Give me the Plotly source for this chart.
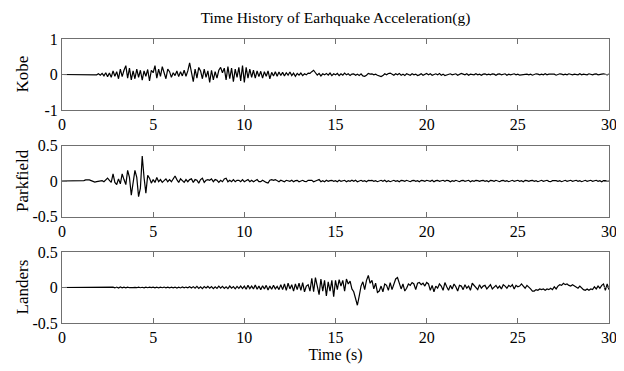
import plotly.graph_objects as go
from plotly.subplots import make_subplots

# ---- data (g), sampled every 0.1 s from 0 to 30 s ----
dt = 0.1
kobe = [
    0, 0, 0, 0, 0, .005, 0, -.005, 0, 0,
    .005, 0, -.005, .005, 0, .01, -.005, 0, .01, -.01,
    .02, -.02, .03, -.04, .05, -.06, .04, -.08, .1, -.05,
    .08, -.12, .15, -.06, .12, .25, -.1, .18, -.15, .1,
    -.12, .15, -.08, .12, -.16, .1, -.05, .14, -.18, .12,
    .05, .25, -.1, .15, -.05, .22, .05, -.12, .15, .08,
    -.08, .05, -.03, .1, -.06, .08, -.04, .12, -.05, .1,
    .33, .05, -.2, .15, -.1, .2, .1, -.12, .15, -.08,
    .1, -.22, .12, -.15, .08, -.1, .12, .2, .05, .18,
    -.15, .22, -.12, .18, -.2, .15, -.08, .2, -.18, .25,
    -.22, .2, -.1, .15, -.08, .12, -.1, .1, -.06, .09,
    -.1, .08, -.05, .1, -.12, .06, -.04, .08, -.05, .07,
    -.03, .06, -.04, .05, -.02, .07, -.03, .04, -.05, .03,
    -.02, .04, -.03, .02, -.01, .04, .03, .08, .12, .05,
    -.02, .03, -.04, .02, -.01, .03, -.02, .04, -.03, .02,
    -.01, .03, -.03, .02, -.02, .04, -.01, .02, -.03, .01,
    .02, -.02, .01, -.03, .02, -.04, -.05, -.02, .03, .01,
    .02, -.01, .01, -.02, -.04, -.06, -.03, .02, -.01, .03,
    .04, .01, -.02, .02, -.01, .03, -.02, .01, -.03, .02,
    .01, -.02, .02, -.01, .01, -.03, -.01, .02, -.02, .01,
    .03, -.01, .02, -.02, .01, .02, -.01, .03, -.02, .01,
    -.03, -.02, .01, .02, -.01, .01, .02, -.02, .01, .03,
    .01, -.01, .02, -.02, .01, .01, -.01, .02, -.01, .01,
    -.02, .01, .02, -.01, .01, -.01, .02, .01, -.02, .01,
    .02, -.01, .01, .02, -.02, .01, -.01, .01, .02, -.01,
    .01, -.02, -.01, .01, .02, .01, -.01, .01, -.02, .01,
    .02, .01, -.01, .01, -.01, .02, -.01, .01, .01, -.01,
    .01, -.02, .01, .02, .01, -.01, .01, -.01, .02, .01,
    -.01, .01, .01, -.01, .02, -.01, .01, .01, -.01, .02,
    .01, -.01, .01, .02, -.01, .01, .01, .02, .01, -.01,
    .01,
]
parkfield = [
    0, 0, 0, 0, 0, 0, 0, 0, 0, 0,
    0, 0, .005, .015, .02, .015, .005, -.01, -.015, -.01,
    -.005, .01, .005, -.01, .02, .04, .01, -.02, .1, -.02,
    -.05, .03, -.04, .1, .02, -.05, .15, .05, -.2, -.05,
    .15, .05, -.22, -.1, .35, .05, -.17, .08, .04, -.03,
    .02, -.02, .05, -.01, .02, -.02, .01, .03, -.01, .02,
    -.01, .03, .07, .02, -.02, .03, .01, -.02, .02, -.01,
    .02, .03, -.02, .02, .01, -.03, .02, .04, -.02, .01,
    .02, .01, .03, -.01, .02, .01, -.02, .01, -.01, .03,
    .04, -.01, .01, -.01, .02, -.01, .01, .01, -.01, .02,
    -.01, .01, .02, -.01, .01, -.01, .01, .02, -.01, -.01,
    .01, -.01, -.02, -.03, .01, .02, .01, .02, .01, -.01,
    .01, .005, -.01, .01, .005, -.005, .01, -.01, .005, .01,
    -.01, .005, .01, -.005, -.01, .01, .005, .01, -.01, .005,
    .01, .02, -.01, .005, -.01, .01, -.005, .005, .01, -.005,
    .005, -.01, .01, -.005, .005, .01, -.01, .005, -.005, .01,
    -.005, .01, -.01, .005, .01, -.005, .005, -.01, .01, .005,
    .01, -.005, .005, -.01, .005, .01, -.005, .01, -.01, .005,
    -.01, .005, .01, -.005, .005, -.01, .01, .005, -.005, .01,
    .005, -.01, .005, .01, -.005, .005, -.01, .01, .005, -.005,
    .01, .005, -.005, .01, -.01, .005, .01, -.005, .005, .01,
    -.005, .01, .005, -.01, .005, -.005, .01, .005, -.01, .005,
    .01, -.005, .005, .01, -.01, .005, -.005, .01, .005, -.005,
    .005, .01, -.005, .005, -.01, .01, .005, -.005, .01, .005,
    -.01, .005, .01, -.005, .005, -.01, .005, .01, -.005, .005,
    .01, -.005, .005, -.01, .01, .005, -.005, .005, .01, -.005,
    .005, -.01, .005, .01, -.005, .005, .01, -.005, -.01, .005,
    .01, .005, -.005, .005, -.01, .005, .01, -.005, .005, .01,
    -.005, .005, .01, -.005, .005, -.01, .005, .01, -.005, .005,
    .01, -.005, .005, .01, -.005, .005, -.01, .005, .005, -.005,
    0,
]
landers = [
    0, 0, 0, 0, 0, 0, 0, 0, 0, 0,
    0, 0, 0, 0, 0, 0, 0, .002, -.002, 0,
    .002, -.003, .003, -.002, .003, -.005, .005, -.005, .004, -.006,
    .006, -.008, .008, -.005, .005, -.004, .004, -.003, .003, -.002,
    .002, -.003, .004, -.003, .003, -.004, .005, -.003, .004, -.002,
    .006, -.004, .005, -.006, .004, -.003, .006, -.005, .004, -.006,
    .005, -.004, .006, -.007, .005, -.006, .008, -.005, .006, -.004,
    .01, -.008, .012, -.01, .015, -.012, .01, -.015, .012, -.008,
    .015, -.01, .012, -.015, .01, -.012, .018, -.01, .015, -.012,
    .01, -.015, .02, -.01, .012, -.018, .015, -.012, .02, -.015,
    .02, -.025, .03, -.015, .02, -.02, .035, -.025, .02, -.03,
    .025, -.02, .03, -.035, .02, -.025, .03, -.02, .015, -.03,
    .04, -.03, .05, -.04, .06, -.02, .04, -.05, .05, -.03,
    .06, -.04, .07, -.06, .02, .04, -.05, .13, -.06, .14,
    .02, -.1, .12, -.05, .1, -.12, .08, -.05, .1, -.13,
    .1, -.03, .11, .02, .1, -.05, .12, .05, .09, -.02,
    -.06, -.15, -.25, -.12, .02, .08, -.03, .1, .17, .06,
    .1, -.02, .06, -.07, -.05, .02, -.06, .05, .03, -.04,
    .07, -.03, .05, .12, .14, .06, -.02, .05, -.05, -.01,
    .05, .03, .07, .05, -.03, .06, .07, .04, .06, .02,
    .07, .05, -.04, .03, -.06, .02, -.01, .05, .02, -.04,
    .07, .01, -.04, .03, -.02, .05, .01, -.05, .03, .02,
    -.03, .04, -.01, .02, -.04, .06, .03, .01, -.03, .04,
    -.01, .02, .03, -.02, .01, .04, -.02, .01, .03, -.01,
    .02, -.02, .04, .02, -.01, .03, .01, .04, -.02, .03,
    .01, .02, .05, .02, -.01, .03, .01, -.02, -.05, -.05,
    -.03, -.04, -.02, -.03, -.02, -.04, -.02, -.03, -.01, -.03,
    .01, -.02, .02, .04, .03, .06, .04, .05, .03, .02,
    .04, .02, .01, -.01, .02, -.01, -.03, -.04, -.02, -.04,
    -.02, -.03, .01, -.02, .02, -.01, .03, .05, -.04, .05,
    -.03,
]
names = ["Kobe", "Parkfield", "Landers"]
series = [kobe, parkfield, landers]
yranges = [[-1, 1], [-0.5, 0.5], [-0.5, 0.5]]
yticks = [[-1, 0, 1], [-0.5, 0, 0.5], [-0.5, 0, 0.5]]
xticks = [0, 5, 10, 15, 20, 25, 30]
title = "Time History of Earhquake Acceleration(g)"
xlabel = "Time (s)"

t = [round(i * dt, 2) for i in range(len(kobe))]

FONT = "Liberation Serif, Times New Roman, serif"
AX = "#707070"

# page body has an 8px default margin; figure is sized so the chart fills the window
W, H = 616, 363
L, R, T, B = 54, 15, 31, 48
PW = W - L - R

fig = make_subplots(rows=3, cols=1, vertical_spacing=0.125)
domains = [[0.75, 1.0], [0.375, 0.625], [0.0, 0.25]]

for i, (nm, ys) in enumerate(zip(names, series)):
    r = i + 1
    fig.add_trace(go.Scatter(x=t, y=ys, mode="lines", line=dict(color="black", width=1.2),
                             name=nm, showlegend=False, hoverinfo="x+y"), row=r, col=1)
    fig.update_xaxes(range=[0, 30], tickvals=xticks, ticks="inside", ticklen=5,
                     tickcolor=AX, showline=True, linecolor=AX, linewidth=1,
                     mirror="ticks", showgrid=False, zeroline=False,
                     tickfont=dict(family=FONT, size=16, color="black"), row=r, col=1)
    fig.update_yaxes(range=yranges[i], tickvals=yticks[i],
                     ticktext=[("%g" % v) for v in yticks[i]],
                     ticks="inside", ticklen=5, tickcolor=AX, showline=True,
                     linecolor=AX, linewidth=1, mirror="ticks", showgrid=False,
                     zeroline=False, domain=domains[i],
                     tickfont=dict(family=FONT, size=16, color="black"), row=r, col=1)
    fig.add_annotation(text=nm, textangle=-90, xref="paper", yref="paper",
                       x=-40 / PW, xanchor="center",
                       y=sum(domains[i]) / 2, yanchor="middle", showarrow=False,
                       font=dict(family=FONT, size=17, color="black"))

fig.update_xaxes(title=dict(text=xlabel, font=dict(family=FONT, size=16, color="black"),
                            standoff=0), row=3, col=1)

fig.update_layout(
    width=W, height=H,
    margin=dict(l=L, r=R, t=T, b=B, autoexpand=False),
    paper_bgcolor="white", plot_bgcolor="white",
    title=dict(text=title, x=0.5, xref="paper", xanchor="center",
               y=1 - 10 / H, yref="container", yanchor="middle",
               font=dict(family=FONT, size=15.5, color="black")),
)

fig.write_html("out.html")
